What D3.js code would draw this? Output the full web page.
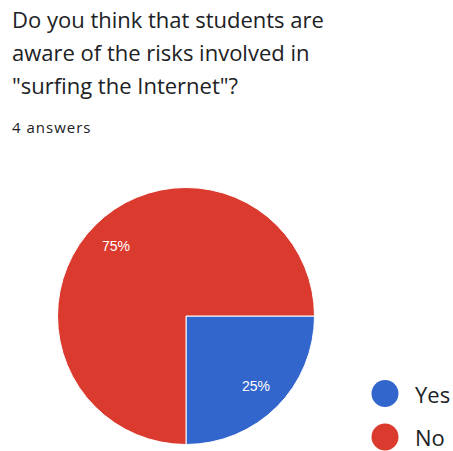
<!DOCTYPE html>
<html>
<head>
<meta charset="utf-8">
<script src="https://cdn.jsdelivr.net/npm/d3@7"></script>
<style>
  html, body { margin: 0; padding: 0; background: #fff; }
  svg { display: block; }
</style>
</head>
<body>
<svg id="chart" width="453" height="451"></svg>
<script>
// Survey responses
const titleLines = ["Do you think that students are", "aware of the risks involved in", "\"surfing the Internet\"?"];
const answerCount = "4 answers";
const categories = ["Yes", "No"];
const values = [1, 3];
const colors = ["#3366cc", "#db3a2f"];

const svg = d3.select("#chart");
const textFont = "'Open Sans', Roboto, sans-serif";

// Question heading
svg.append("g")
  .selectAll("text")
  .data(titleLines)
  .join("text")
  .attr("x", 12)
  .attr("y", (d, i) => 28 + i * 33)
  .attr("font-family", textFont)
  .attr("font-size", 22)
  .attr("fill", "#202124")
  .text(d => d);

svg.append("text")
  .attr("x", 12)
  .attr("y", 133)
  .attr("font-family", textFont)
  .attr("font-size", 15)
  .attr("letter-spacing", 1)
  .attr("fill", "#202124")
  .text(answerCount);

// Pie
const cx = 186, cy = 316, radius = 128.5;
const total = d3.sum(values);
const pie = d3.pie().sort(null).value(d => d.value)
  .startAngle(Math.PI / 2).endAngle(Math.PI / 2 + 2 * Math.PI);
const slices = pie(categories.map((c, i) => ({ name: c, value: values[i], color: colors[i] })));
const arc = d3.arc().innerRadius(0).outerRadius(radius);
const labelArc = d3.arc().innerRadius(radius * 0.77).outerRadius(radius * 0.77);

const g = svg.append("g").attr("transform", `translate(${cx},${cy})`);
g.selectAll("path")
  .data(slices)
  .join("path")
  .attr("d", arc)
  .attr("fill", d => d.data.color)
  .attr("stroke", "#fff")
  .attr("stroke-width", 1);

g.selectAll("text")
  .data(slices)
  .join("text")
  .attr("transform", d => `translate(${labelArc.centroid(d)})`)
  .attr("text-anchor", "middle")
  .attr("dy", "0.35em")
  .attr("font-family", "Arial, 'Liberation Sans', sans-serif")
  .attr("font-size", 14)
  .attr("fill", "#fff")
  .text(d => d3.format(".0%")(d.data.value / total));

// Legend
const legend = svg.append("g")
  .selectAll("g")
  .data(categories)
  .join("g")
  .attr("transform", (d, i) => `translate(385,${393.5 + i * 43.5})`);

legend.append("circle")
  .attr("r", 13.5)
  .attr("fill", (d, i) => colors[i]);

legend.append("text")
  .attr("x", 30)
  .attr("dy", "0.42em")
  .attr("font-family", textFont)
  .attr("font-size", 22)
  .attr("fill", "#202124")
  .text(d => d);
</script>
</body>
</html>
